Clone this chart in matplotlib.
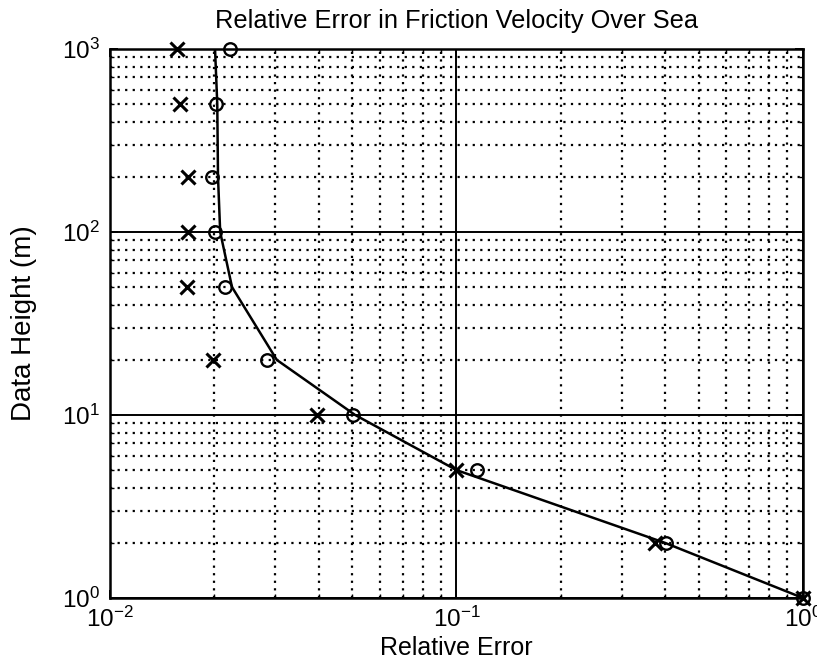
import matplotlib
matplotlib.use("Agg")
import matplotlib.pyplot as plt
from matplotlib.ticker import LogLocator, NullFormatter

plt.rcParams['font.family'] = ['Liberation Sans', 'DejaVu Sans']
plt.rcParams['mathtext.fontset'] = 'custom'
plt.rcParams['mathtext.rm'] = 'Liberation Sans'
plt.rcParams['mathtext.it'] = 'Liberation Sans'

# Data heights (m)
heights = [1, 2, 5, 10, 20, 50, 100, 200, 500, 1000]
# Relative error curve (solid line)
err_curve = [1.0, 0.40, 0.100, 0.051, 0.0303, 0.0225, 0.0208, 0.0205, 0.0204, 0.0201]
# Relative error estimates, circles
err_circle = [1.0, 0.403, 0.1146, 0.0503, 0.0284, 0.0215, 0.0201, 0.0197, 0.0202, 0.0222]
# Relative error estimates, crosses
err_cross = [1.0, 0.374, 0.0996, 0.0396, 0.0198, 0.0167, 0.0168, 0.0168, 0.0159, 0.0156]

xticks = [1e-2, 1e-1, 1e0]
xticklabels = [r'$10^{-2}$', r'$10^{-1}$', r'$10^{0}$']
yticks = [1e0, 1e1, 1e2, 1e3]
yticklabels = [r'$10^{0}$', r'$10^{1}$', r'$10^{2}$', r'$10^{3}$']

fig = plt.figure(figsize=(8.17, 6.69), dpi=100)
ax = fig.add_axes([0.1346, 0.1061, 0.8483, 0.8207])

ax.set_xscale('log')
ax.set_yscale('log')
ax.set_xlim(1e-2, 1e0)
ax.set_ylim(1e0, 1e3)

# Grid: solid at decades, dotted at sub-decades
ax.xaxis.set_minor_locator(LogLocator(base=10, subs=range(2, 10)))
ax.yaxis.set_minor_locator(LogLocator(base=10, subs=range(2, 10)))
ax.xaxis.set_minor_formatter(NullFormatter())
ax.yaxis.set_minor_formatter(NullFormatter())
ax.grid(True, which='major', color='black', linestyle='-', linewidth=1.4, zorder=1)
ax.grid(True, which='minor', color='black', linestyle=(0, (1, 2.4)), linewidth=1.6, zorder=1)
ax.set_axisbelow(True)

ax.plot(err_curve, heights, color='black', linewidth=1.8, zorder=3)
ax.plot(err_circle, heights, linestyle='none', marker='o', markersize=9,
        markerfacecolor='none', markeredgecolor='black', markeredgewidth=1.7,
        zorder=4, clip_on=False)
ax.plot(err_cross, heights, linestyle='none', marker='x', markersize=10,
        markeredgecolor='black', markeredgewidth=2.2, zorder=4, clip_on=False)

ax.set_xticks(xticks)
ax.set_xticklabels(xticklabels)
ax.set_yticks(yticks)
ax.set_yticklabels(yticklabels)
ax.tick_params(which='both', direction='in', top=True, right=True, labelsize=17.5)
ax.tick_params(axis='x', pad=6)
ax.tick_params(axis='y', pad=7)
ax.tick_params(which='major', length=6, width=1.4)
ax.tick_params(which='minor', length=3, width=1.0)

for s in ax.spines.values():
    s.set_linewidth(1.8)
    s.set_color('black')

ax.set_title('Relative Error in Friction Velocity Over Sea', fontsize=18.3, pad=15)
ax.set_xlabel('Relative Error', fontsize=18, labelpad=3)
ax.set_ylabel('Data Height (m)', fontsize=20, labelpad=18)

fig.savefig('out.png', dpi=100)
